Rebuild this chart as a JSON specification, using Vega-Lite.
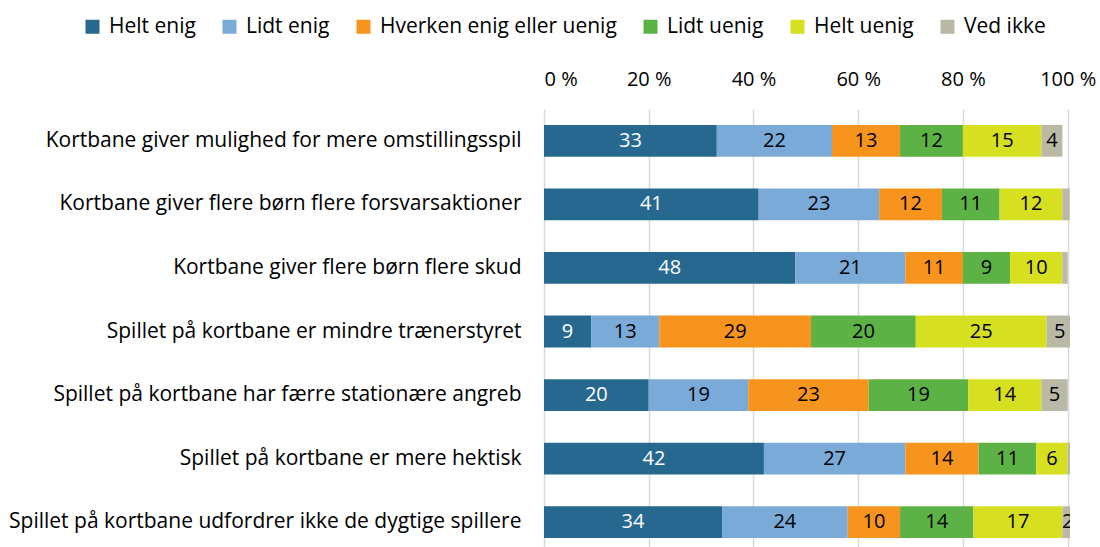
{
  "$schema": "https://vega.github.io/schema/vega-lite/v6.json",
  "width": 526,
  "height": 445,
  "autosize": {"type": "none"},
  "padding": {"left": 544, "top": 109, "right": 30, "bottom": 0},
  "config": {"view": {"stroke": null}, "font": "Open Sans"},
  "data": {
    "values": [
      {"q": "Kortbane giver mulighed for mere omstillingsspil", "r": "Helt enig", "v": 33},
      {"q": "Kortbane giver mulighed for mere omstillingsspil", "r": "Lidt enig", "v": 22},
      {"q": "Kortbane giver mulighed for mere omstillingsspil", "r": "Hverken enig eller uenig", "v": 13},
      {"q": "Kortbane giver mulighed for mere omstillingsspil", "r": "Lidt uenig", "v": 12},
      {"q": "Kortbane giver mulighed for mere omstillingsspil", "r": "Helt uenig", "v": 15},
      {"q": "Kortbane giver mulighed for mere omstillingsspil", "r": "Ved ikke", "v": 4},
      {"q": "Kortbane giver flere børn flere forsvarsaktioner", "r": "Helt enig", "v": 41},
      {"q": "Kortbane giver flere børn flere forsvarsaktioner", "r": "Lidt enig", "v": 23},
      {"q": "Kortbane giver flere børn flere forsvarsaktioner", "r": "Hverken enig eller uenig", "v": 12},
      {"q": "Kortbane giver flere børn flere forsvarsaktioner", "r": "Lidt uenig", "v": 11},
      {"q": "Kortbane giver flere børn flere forsvarsaktioner", "r": "Helt uenig", "v": 12},
      {"q": "Kortbane giver flere børn flere forsvarsaktioner", "r": "Ved ikke", "v": 1.4},
      {"q": "Kortbane giver flere børn flere skud", "r": "Helt enig", "v": 48},
      {"q": "Kortbane giver flere børn flere skud", "r": "Lidt enig", "v": 21},
      {"q": "Kortbane giver flere børn flere skud", "r": "Hverken enig eller uenig", "v": 11},
      {"q": "Kortbane giver flere børn flere skud", "r": "Lidt uenig", "v": 9},
      {"q": "Kortbane giver flere børn flere skud", "r": "Helt uenig", "v": 10},
      {"q": "Kortbane giver flere børn flere skud", "r": "Ved ikke", "v": 1},
      {"q": "Spillet på kortbane er mindre trænerstyret", "r": "Helt enig", "v": 9},
      {"q": "Spillet på kortbane er mindre trænerstyret", "r": "Lidt enig", "v": 13},
      {"q": "Spillet på kortbane er mindre trænerstyret", "r": "Hverken enig eller uenig", "v": 29},
      {"q": "Spillet på kortbane er mindre trænerstyret", "r": "Lidt uenig", "v": 20},
      {"q": "Spillet på kortbane er mindre trænerstyret", "r": "Helt uenig", "v": 25},
      {"q": "Spillet på kortbane er mindre trænerstyret", "r": "Ved ikke", "v": 5},
      {"q": "Spillet på kortbane har færre stationære angreb", "r": "Helt enig", "v": 20},
      {"q": "Spillet på kortbane har færre stationære angreb", "r": "Lidt enig", "v": 19},
      {"q": "Spillet på kortbane har færre stationære angreb", "r": "Hverken enig eller uenig", "v": 23},
      {"q": "Spillet på kortbane har færre stationære angreb", "r": "Lidt uenig", "v": 19},
      {"q": "Spillet på kortbane har færre stationære angreb", "r": "Helt uenig", "v": 14},
      {"q": "Spillet på kortbane har færre stationære angreb", "r": "Ved ikke", "v": 5},
      {"q": "Spillet på kortbane er mere hektisk", "r": "Helt enig", "v": 42},
      {"q": "Spillet på kortbane er mere hektisk", "r": "Lidt enig", "v": 27},
      {"q": "Spillet på kortbane er mere hektisk", "r": "Hverken enig eller uenig", "v": 14},
      {"q": "Spillet på kortbane er mere hektisk", "r": "Lidt uenig", "v": 11},
      {"q": "Spillet på kortbane er mere hektisk", "r": "Helt uenig", "v": 6},
      {"q": "Spillet på kortbane er mere hektisk", "r": "Ved ikke", "v": 1},
      {"q": "Spillet på kortbane udfordrer ikke de dygtige spillere", "r": "Helt enig", "v": 34},
      {"q": "Spillet på kortbane udfordrer ikke de dygtige spillere", "r": "Lidt enig", "v": 24},
      {"q": "Spillet på kortbane udfordrer ikke de dygtige spillere", "r": "Hverken enig eller uenig", "v": 10},
      {"q": "Spillet på kortbane udfordrer ikke de dygtige spillere", "r": "Lidt uenig", "v": 14},
      {"q": "Spillet på kortbane udfordrer ikke de dygtige spillere", "r": "Helt uenig", "v": 17},
      {"q": "Spillet på kortbane udfordrer ikke de dygtige spillere", "r": "Ved ikke", "v": 2}
    ]
  },
  "transform": [
    {"calculate": "indexof(['Helt enig','Lidt enig','Hverken enig eller uenig','Lidt uenig','Helt uenig','Ved ikke'], datum.r)", "as": "o"},
    {"stack": "v", "groupby": ["q"], "sort": [{"field": "o", "order": "ascending"}], "as": ["x0", "x1"]},
    {"calculate": "(datum.x0 + datum.x1) / 2", "as": "xm"}
  ],
  "encoding": {
    "y": {
      "field": "q",
      "type": "nominal",
      "sort": null,
      "scale": {"paddingInner": 0.5, "paddingOuter": 0.25},
      "axis": {
        "title": null,
        "domain": false,
        "ticks": false,
        "labelFontSize": 21,
        "labelPadding": 23,
        "labelColor": "#000000",
        "labelLimit": 0
      }
    }
  },
  "layer": [
    {
      "mark": {"type": "bar", "clip": true},
      "encoding": {
        "x": {
          "field": "x0",
          "type": "quantitative",
          "scale": {"domain": [0, 100.45], "nice": false, "zero": true},
          "axis": {
            "orient": "top",
            "title": null,
            "values": [0, 20, 40, 60, 80, 100],
            "labelExpr": "datum.value + ' %'",
            "grid": true,
            "gridColor": "#d9d9d9",
            "gridWidth": 1.5,
            "domain": false,
            "ticks": false,
            "labelFontSize": 20,
            "labelPadding": 20,
            "labelColor": "#000000"
          }
        },
        "x2": {"field": "x1"},
        "color": {
          "field": "r",
          "type": "nominal",
          "scale": {
            "domain": ["Helt enig", "Lidt enig", "Hverken enig eller uenig", "Lidt uenig", "Helt uenig", "Ved ikke"],
            "range": ["#276891", "#79aad8", "#f7941e", "#5db246", "#d6df20", "#b9b9a6"]
          },
          "legend": {
            "orient": "none",
            "legendX": -462,
            "legendY": -93,
            "padding": 0,
            "direction": "horizontal",
            "title": null,
            "symbolType": "square",
            "symbolSize": 196,
            "symbolStrokeWidth": 0,
            "labelFontSize": 21,
            "labelColor": "#000000",
            "labelOffset": 6,
            "labelLimit": 0,
            "columnPadding": 23
          }
        }
      }
    },
    {
      "transform": [{"filter": "datum.v >= 1.5"}],
      "mark": {"type": "text", "clip": true, "fontSize": 20},
      "encoding": {
        "x": {"field": "xm", "type": "quantitative"},
        "text": {"field": "v", "type": "quantitative", "format": ".0f"},
        "color": {
          "condition": {"test": "datum.r === 'Helt enig'", "value": "#ffffff"},
          "value": "#000000"
        }
      }
    }
  ]
}
